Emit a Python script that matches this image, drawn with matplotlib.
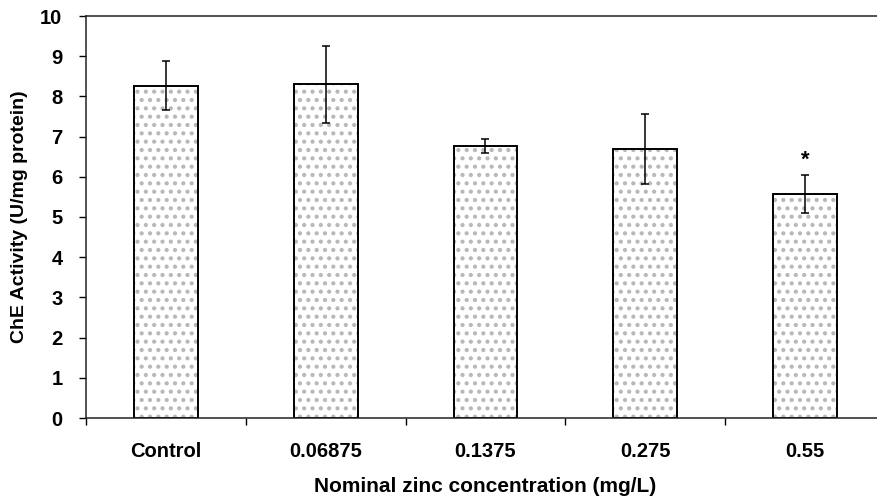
import matplotlib
matplotlib.use("Agg")
import matplotlib.pyplot as plt
import numpy as np

categories = ["Control", "0.06875", "0.1375", "0.275", "0.55"]
values = [8.27, 8.30, 6.77, 6.70, 5.57]
errors = [0.62, 0.96, 0.17, 0.87, 0.47]
significant = [False, False, False, False, True]
yticks = list(range(0, 11))

plt.rcParams['font.family'] = ['Liberation Sans', 'DejaVu Sans']
plt.rcParams['hatch.linewidth'] = 1.8

fig = plt.figure(figsize=(8.78, 4.97), dpi=100)
W, H = 878, 497
left, right, top, bottom = 86, 885, 16, 418
ax = fig.add_axes([left / W, 1 - bottom / H, (right - left) / W, (bottom - top) / H])

x = np.arange(len(categories))
# hatched fill in light gray
ax.bar(x, values, width=0.4, color='white', edgecolor='#b8b8b8', linewidth=0,
       hatch='..', zorder=2)
# black outline
ax.bar(x, values, width=0.4, fill=False, edgecolor='black', linewidth=1.4, zorder=2.5)
ax.errorbar(x, values, yerr=errors, fmt='none', ecolor='black', elinewidth=1.1,
            capsize=3, capthick=1.1, zorder=3)
for xi, v, e, s in zip(x, values, errors, significant):
    if s:
        ax.text(xi, v + e + 0.1, "*", ha='center', va='bottom', fontsize=16,
                fontweight='bold')

ax.set_xlim(-0.5, len(categories) - 0.5)
ax.set_ylim(0, 10)
ax.set_yticks(yticks)
ax.set_yticklabels([str(t) for t in yticks], fontsize=14.5, fontweight='bold')
ax.set_xticks(np.arange(len(categories) + 1) - 0.5, minor=False)
ax.set_xticklabels([])
ax.set_xticks(x, minor=True)
ax.set_xticklabels(categories, minor=True, fontsize=14.5, fontweight='bold')
ax.tick_params(axis='x', which='minor', length=0, pad=17)
ax.tick_params(axis='x', which='major', length=5, direction='out', width=1)
ax.tick_params(axis='y', length=5, direction='out', width=1, pad=12)

for sp in ['top', 'left', 'bottom']:
    ax.spines[sp].set_linewidth(1.1)
    ax.spines[sp].set_color('#222222')
ax.spines['right'].set_visible(False)

ax.set_ylabel("ChE Activity (U/mg protein)", fontsize=14, fontweight='bold', labelpad=9)
ax.set_xlabel("Nominal zinc concentration (mg/L)", fontsize=15, fontweight='bold', labelpad=12)

fig.savefig("out.png", dpi=100)
